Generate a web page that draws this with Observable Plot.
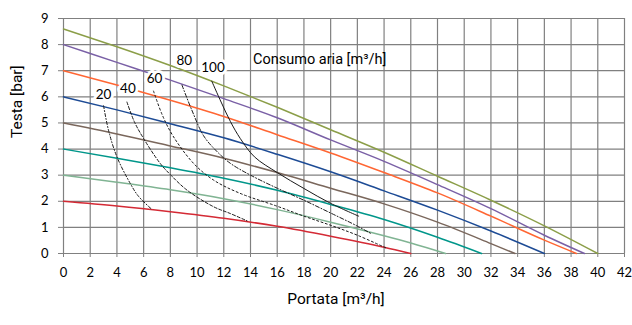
<!DOCTYPE html>
<html>
<head>
<meta charset="utf-8">
<script src="https://cdn.jsdelivr.net/npm/d3@7"></script>
<script src="https://cdn.jsdelivr.net/npm/@observablehq/plot@0.6"></script>
<style>
  html, body { margin: 0; padding: 0; background: #fff; }
  #chart { width: 632px; height: 325px; }
  svg { font-family: Lato, "Open Sans", sans-serif; }
</style>
</head>
<body>
<div id="chart"></div>
<script>
// Axis ticks
const xTicks = [0, 2, 4, 6, 8, 10, 12, 14, 16, 18, 20, 22, 24, 26, 28, 30, 32, 34, 36, 38, 40, 42];
const yTicks = [0, 1, 2, 3, 4, 5, 6, 7, 8, 9];

// Pump curves [portata, testa]
const curveRed    = [[0,2],[4,1.82],[8,1.6],[12,1.35],[16,1.04],[20,0.66],[24,0.24],[26,0]];
const curveSage   = [[0,3],[4,2.73],[8,2.44],[12,2.1],[16,1.68],[20,1.2],[24,0.68],[26,0.4],[28.6,0]];
const curveTeal   = [[0,4],[4,3.65],[8,3.28],[12,2.88],[16,2.42],[20,1.88],[24,1.3],[28,0.62],[31.3,0]];
const curveBrown  = [[0,5],[4,4.58],[8,4.12],[12,3.65],[16,3.1],[20,2.5],[24,1.9],[28,1.2],[32,0.38],[33.8,0]];
const curveBlue   = [[0,6],[4,5.5],[8,4.97],[12,4.43],[16,3.8],[20,3.13],[24,2.4],[28,1.66],[32,0.86],[36,0]];
const curveOrange = [[0,7],[4,6.45],[8,5.87],[12,5.25],[16,4.55],[20,3.85],[24,3.1],[28,2.32],[32,1.43],[36,0.51],[38.4,0]];
const curvePurple = [[0,8],[4,7.32],[8,6.64],[12,5.93],[16,5.2],[20,4.35],[24,3.53],[28,2.64],[32,1.72],[36,0.7],[39,0]];
const curveOlive  = [[0,8.6],[4,7.92],[8,7.2],[12,6.42],[16,5.6],[20,4.74],[24,3.88],[28,2.96],[32,2.04],[36,1.06],[40,0]];

// Air consumption curves [portata, testa]
const air20  = [[3,5.66],[3.37,4.72],[4,3.7],[5,2.68],[5.6,2.2],[6.55,1.72]];
const air40  = [[4.75,5.8],[5.3,5.05],[6,4.4],[7.24,3.45],[8,3.02],[9.24,2.43],[11.24,1.79],[12.49,1.53],[13.74,1.25]];
const air60  = [[6.74,6.22],[7.4,5.3],[8.2,4.5],[9.74,3.45],[11.24,2.81],[13.24,2.3],[16,1.81],[18,1.43],[20,1.08],[22,0.7],[24.2,0.2]];
const air80  = [[8.87,6.45],[9.6,5.5],[10.5,4.5],[11.5,3.9],[12.5,3.45],[14,3.0],[16,2.5],[18,2.04],[20,1.55],[22,1.05],[23,0.77]];
const air100 = [[11.1,6.6],[11.8,5.8],[12.5,5.05],[13.24,4.4],[14.3,3.7],[16,3.1],[18,2.49],[20,1.92],[22.1,1.43]];

// Air curve labels
const airLabels = ["20", "40", "60", "80", "100"];
const airLabelX = [3.0, 4.82, 6.82, 9.04, 11.19];
const airLabelY = [6.07, 6.32, 6.7, 7.38, 7.11];

const consumoText = ["Consumo aria [m³/h]"];
const consumoX = [14.19];
const consumoY = [7.43];

const xLabel = "Portata [m³/h]";
const yLabel = "Testa [bar]";

const pumpCurves = [
  {data: curveRed, color: "#d42a35"},
  {data: curveSage, color: "#80b493"},
  {data: curveTeal, color: "#00968a"},
  {data: curveBrown, color: "#7a675c"},
  {data: curveBlue, color: "#1d4b95"},
  {data: curveOrange, color: "#ff6633"},
  {data: curvePurple, color: "#7a60a6"},
  {data: curveOlive, color: "#8b9e48"}
];
const airCurves = [
  {data: air20, dash: "3,2,1,2"},
  {data: air40, dash: "3,2"},
  {data: air60, dash: "2,2.5"},
  {data: air80, dash: "4,2,1,2"},
  {data: air100, dash: null}
];

const labelRows = airLabels.map((t, i) => ({t, x: airLabelX[i], y: airLabelY[i]}));
const consumoRows = consumoText.map((t, i) => ({t, x: consumoX[i], y: consumoY[i]}));

const chart = Plot.plot({
  width: 632,
  height: 325,
  marginLeft: 63,
  marginRight: 8,
  marginTop: 18,
  marginBottom: 72,
  x: {domain: [0, 42]},
  y: {domain: [0, 9]},
  style: {fontFamily: "Lato, 'Open Sans', sans-serif", fontSize: "13px", color: "#000", background: "#fff"},
  marks: [
    Plot.ruleX(xTicks, {stroke: "#808080", strokeWidth: 1.2}),
    Plot.ruleY(yTicks, {stroke: "#808080", strokeWidth: 1.2}),
    Plot.axisX({ticks: xTicks, tickSize: 4, tickPadding: 10, tickFormat: d => String(d), label: null, stroke: "#808080", fill: "#000"}),
    Plot.axisY({ticks: yTicks, tickSize: 5, tickPadding: 10, tickFormat: d => String(d), label: null, stroke: "#808080", fill: "#000"}),
    ...pumpCurves.map(c => Plot.line(c.data, {x: d => d[0], y: d => d[1], stroke: c.color, strokeWidth: 1.5, curve: "monotone-x"})),
    ...airCurves.map(c => Plot.line(c.data, {x: d => d[0], y: d => d[1], stroke: "#1a1a1a", strokeWidth: 1, strokeDasharray: c.dash, curve: "catmull-rom"})),
    Plot.text(labelRows, {x: "x", y: "y", text: "t", fill: "#000", stroke: "#fff", strokeWidth: 6, fontSize: 13.5}),
    Plot.text(consumoRows, {x: "x", y: "y", text: "t", textAnchor: "start", fill: "#000", fontSize: 14.5, fontFamily: "Roboto, sans-serif"}),
    Plot.text([xLabel], {frameAnchor: "bottom", dx: -8, dy: 50, fontSize: 15.5, fill: "#000", fontFamily: "Roboto, sans-serif"}),
    Plot.text([yLabel], {frameAnchor: "left", rotate: -90, dx: -46, dy: 2, fontSize: 15.5, fill: "#000", fontFamily: "Roboto, sans-serif"})
  ]
});
document.getElementById("chart").appendChild(chart);
</script>
</body>
</html>
